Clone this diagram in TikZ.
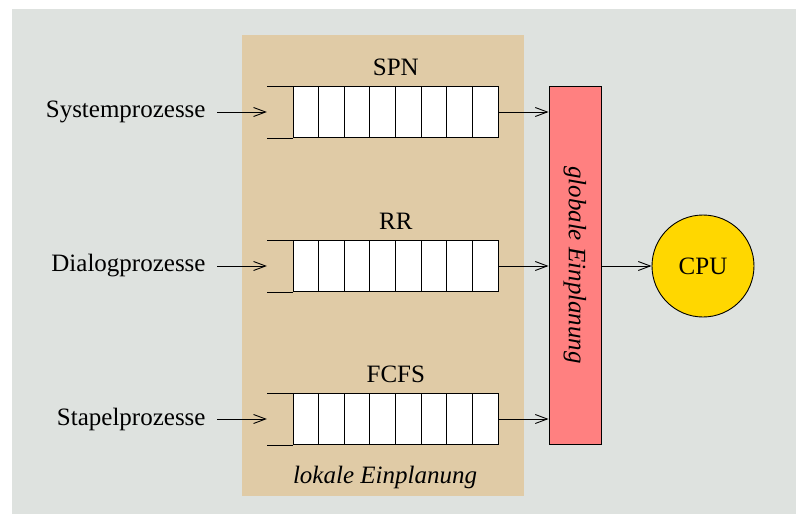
\documentclass[tikz,border=0pt]{standalone}
\usepackage{fontspec}
\setmainfont{Liberation Serif}
\usetikzlibrary{arrows.meta}
\definecolor{bggrey}{RGB}{222,226,223}
\definecolor{tan}{RGB}{224,203,166}
\definecolor{redbox}{RGB}{255,128,128}
\definecolor{cpuyellow}{RGB}{255,215,0}
\begin{document}
\begin{tikzpicture}[x=1pt,y=-1pt,
  font=\fontsize{25}{30}\selectfont,
  line width=0.9pt,
  arr/.style={-{Straight Barb[length=12pt,width=9pt,line width=0.9pt]}},
  queuebox/.style={draw, fill=white, rectangle, minimum width=205pt, minimum height=51pt, inner sep=0pt},
  lbl/.style={anchor=east, inner sep=0pt},
  qtitle/.style={inner sep=0pt}]
\useasboundingbox (0,0) rectangle (796,514);
\fill[white] (0,0) rectangle (796,514);
\fill[bggrey] (12,9) rectangle (796,514);
\fill[tan] (242,35) rectangle (524,496);

% queues
\foreach \n/\y/\t in {q1/112/SPN, q2/266/RR, q3/419/FCFS}{
  \node[queuebox] (\n) at (395.8,\y) {};
  \foreach \i in {1,...,7}{
    \draw ([xshift=\i*25.625pt]\n.north west) -- ([xshift=\i*25.625pt]\n.south west);
  }
  \draw (\n.north west) -- ++(-26,0);
  \draw (\n.south west) -- ++(-26,0);
  \coordinate (\n in) at ([xshift=-26pt]\n.west);
  \node[qtitle] (\n t) at (395.8,\y-45) {\t};
}

% global scheduler
\node[draw, fill=redbox, minimum width=52pt, minimum height=358pt, inner sep=0pt] (g) at (575,265) {};
\node[rotate=-90, inner sep=0pt] (gt) at (g.center) {\itshape globale Einplanung};

% CPU
\node[draw, circle, fill=cpuyellow, minimum size=102pt, inner sep=0pt] (cpu) at (703,266) {CPU};

% labels
\node[lbl] (l1) at (206,112) {Systemprozesse};
\node[lbl] (l2) at (206,266) {Dialogprozesse};
\node[lbl] (l3) at (206,419) {Stapelprozesse};

\node[inner sep=0pt] (lok) at (385,477) {\itshape lokale Einplanung};

% arrows
\draw[arr] ([xshift=11pt]l1.east) -- (q1in);
\draw[arr] ([xshift=11pt]l2.east) -- (q2in);
\draw[arr] ([xshift=11pt]l3.east) -- (q3in);
\draw[arr] (q1.east) -- (g.west |- q1.east);
\draw[arr] (q2.east) -- (g.west |- q2.east);
\draw[arr] (q3.east) -- (g.west |- q3.east);
\draw[arr] (g.east |- cpu.west) -- (cpu.west);
\end{tikzpicture}
\end{document}
